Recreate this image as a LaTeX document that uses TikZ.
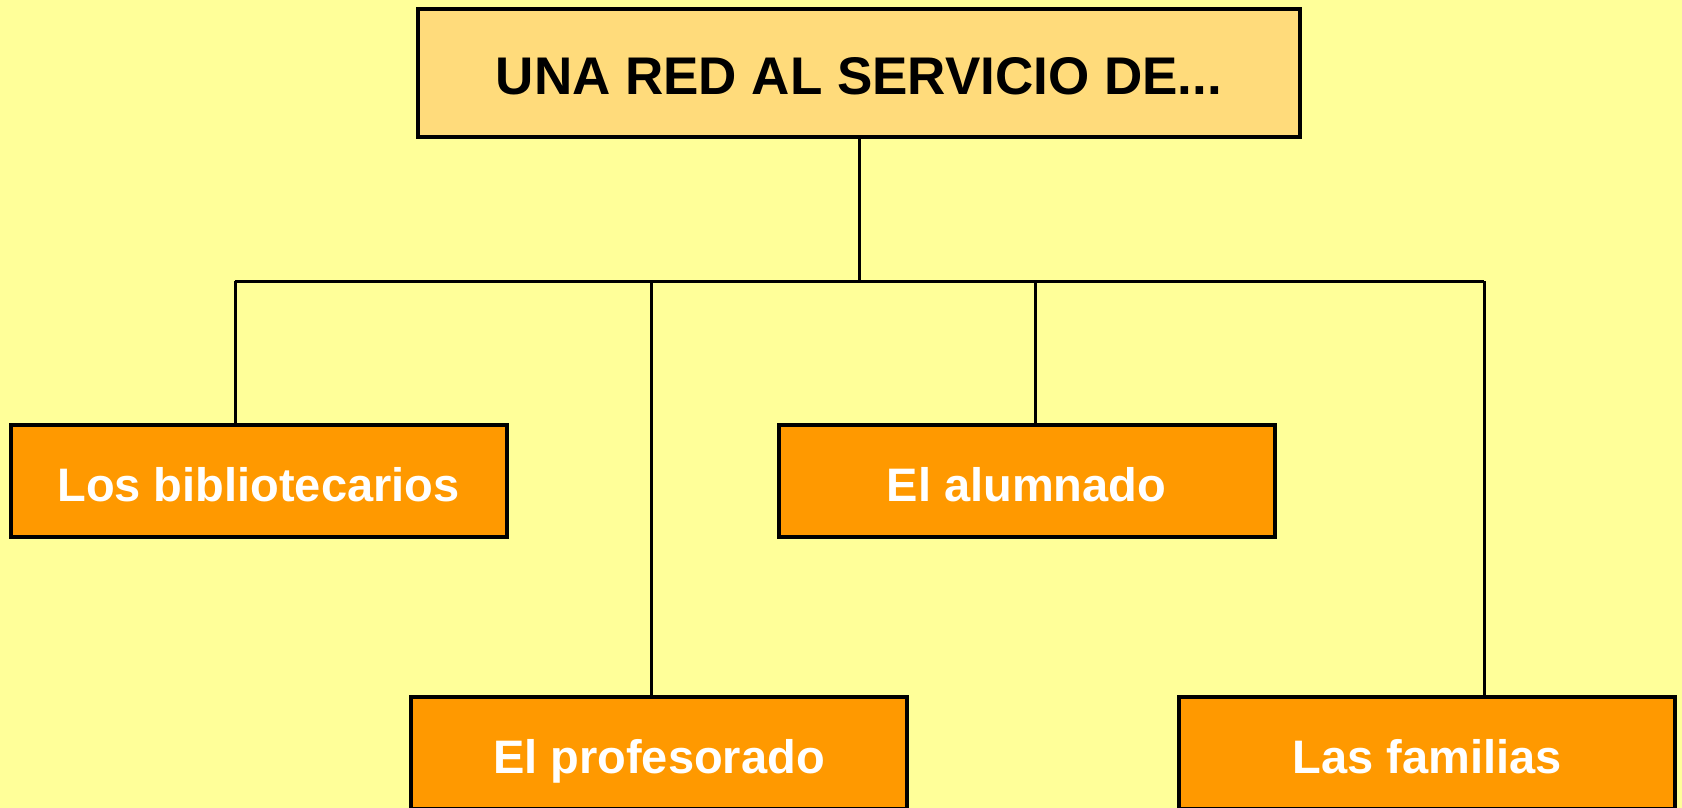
\documentclass[tikz,border=0pt]{standalone}
\usepackage{fontspec}
\setmainfont{Liberation Sans}
\usepackage{tikz}
\usetikzlibrary{positioning}
\definecolor{fondo}{RGB}{255,255,153}
\definecolor{titulo}{RGB}{255,219,123}
\definecolor{naranja}{RGB}{255,153,0}

\begin{document}
\begin{tikzpicture}[
            x = 1pt, y = -1pt, % pixel units, y downwards
            node distance = 768pt, % distance between boxes of a row
            line width = 3pt % line style
        ]

        \tikzstyle{cabecera}=[
            draw = black,
            line width = 4pt,
            fill = titulo,
            minimum width = 882pt,
            minimum height = 128pt,
            text height = 44pt,
            text depth = 0pt,
            font = \fontsize{53}{60}\selectfont\bfseries
        ]
        \tikzstyle{grupo}=[
            draw = black,
            line width = 4pt,
            fill = naranja,
            text = white,
            minimum width = 496pt,
            minimum height = 112pt,
            text height = 40pt,
            text depth = 0pt,
            font = \fontsize{47}{54}\selectfont\bfseries
        ]

        % background
        \fill[fondo] (0,0) rectangle (1682,808);
        \useasboundingbox (0,0) rectangle (1682,808);

        % top level
        \node[cabecera] (R) at (859,73) {UNA RED AL SERVICIO DE...};

        % first row
        \node[grupo] (B) at (258.5,481) {Los bibliotecarios};
        \node[grupo] (AL) [right of=B] {El alumnado};

        % second row
        \node[grupo] (P) at (659,753) {El profesorado};
        \node[grupo] (F) [right of=P] {Las familias};

        % branch points on the bar
        \coordinate (c1) at (235,281);
        \coordinate (c2) at (651,281);
        \coordinate (c3) at (1035,281);
        \coordinate (c4) at (1484,281);

        \draw (R.south) -- (R.south |- c1);
        \draw (c1) -- (c4);
        \draw (c1) -- (c1 |- B.north);
        \draw (c2) -- (c2 |- P.north);
        \draw (c3) -- (c3 |- AL.north);
        \draw (c4) -- (c4 |- F.north);

  \end{tikzpicture}
\end{document}
